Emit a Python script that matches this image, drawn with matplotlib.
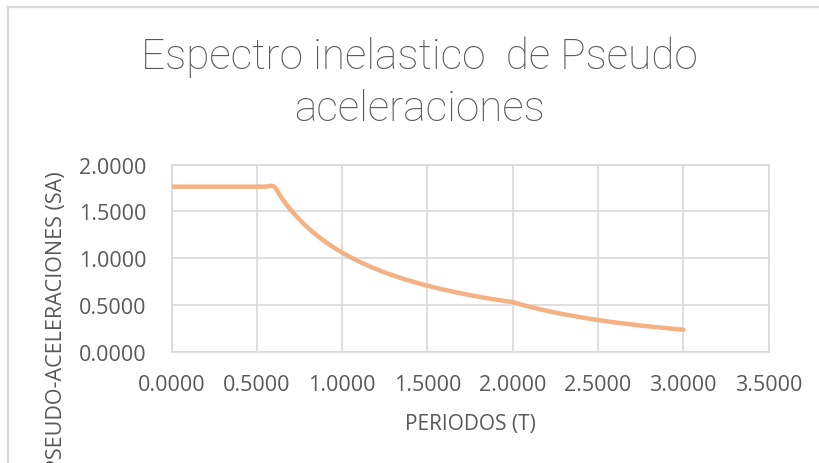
import matplotlib
matplotlib.use("Agg")
import matplotlib.pyplot as plt
import numpy as np
from matplotlib.path import Path
from matplotlib.patches import PathPatch

# periodo T (s) and pseudo-aceleracion Sa
periodos = [0.00, 0.05, 0.10, 0.15, 0.20, 0.25, 0.30, 0.35, 0.40, 0.45, 0.50,
            0.55, 0.60, 0.65, 0.70, 0.75, 0.80, 0.85, 0.90, 0.95, 1.00,
            1.05, 1.10, 1.15, 1.20, 1.25, 1.30, 1.35, 1.40, 1.45, 1.50,
            1.55, 1.60, 1.65, 1.70, 1.75, 1.80, 1.85, 1.90, 1.95, 2.00,
            2.05, 2.10, 2.15, 2.20, 2.25, 2.30, 2.35, 2.40, 2.45, 2.50,
            2.55, 2.60, 2.65, 2.70, 2.75, 2.80, 2.85, 2.90, 2.95, 3.00]
sa = [1.765, 1.765, 1.765, 1.765, 1.765, 1.765, 1.765, 1.765, 1.765, 1.765, 1.765,
      1.765, 1.765, 1.629, 1.513, 1.412, 1.324, 1.246, 1.177, 1.115, 1.059,
      1.009, 0.963, 0.921, 0.883, 0.847, 0.815, 0.784, 0.757, 0.730, 0.706,
      0.683, 0.662, 0.642, 0.623, 0.605, 0.588, 0.572, 0.557, 0.543, 0.530,
      0.504, 0.480, 0.458, 0.438, 0.418, 0.400, 0.384, 0.368, 0.353, 0.339,
      0.326, 0.313, 0.302, 0.291, 0.280, 0.270, 0.261, 0.252, 0.243, 0.235]

x_ticks = [0.0, 0.5, 1.0, 1.5, 2.0, 2.5, 3.0, 3.5]
y_ticks = [0.0, 0.5, 1.0, 1.5, 2.0]

TEXT = "#595959"
GRID = "#D9D9D9"
LINE = "#F4B183"
FONT = "Open Sans"


def smooth_path(x, y):
    # cubic bezier through every point, excel-style smoothed line
    pts = np.column_stack([x, y])
    verts = [pts[0]]
    codes = [Path.MOVETO]
    n = len(pts)
    for i in range(n - 1):
        p0 = pts[i - 1] if i > 0 else pts[i]
        p1 = pts[i]
        p2 = pts[i + 1]
        p3 = pts[i + 2] if i + 2 < n else pts[i + 1]
        c1 = p1 + (p2 - p0) / 6.0
        c2 = p2 - (p3 - p1) / 6.0
        verts += [c1, c2, p2]
        codes += [Path.CURVE4] * 3
    return Path(verts, codes)


fig = plt.figure(figsize=(8.2, 4.64), dpi=100)
ax = fig.add_axes([0.2094, 0.2399, 0.7278, 0.4030])

patch = PathPatch(smooth_path(periodos, sa), facecolor="none", edgecolor=LINE,
                  lw=3.2, capstyle="round", joinstyle="round", zorder=3)
ax.add_patch(patch)

ax.set_xlim(0, 3.5)
ax.set_ylim(0, 2.0)
ax.set_xticks(x_ticks)
ax.set_yticks(y_ticks)
ax.set_xticklabels([f"{v:.4f}" for v in x_ticks])
ax.set_yticklabels([f"{v:.4f}" for v in y_ticks])
ax.grid(True, color=GRID, lw=1.2)
ax.set_axisbelow(True)
for s in ax.spines.values():
    s.set_color(GRID)
    s.set_linewidth(1.2)
ax.tick_params(axis="y", length=0, labelsize=15.5, labelcolor=TEXT, pad=18)
ax.tick_params(axis="x", length=0, labelsize=15.5, labelcolor=TEXT, pad=16)
for lab in ax.get_xticklabels() + ax.get_yticklabels():
    lab.set_fontfamily(FONT)

ax.set_xlabel("PERIODOS (T)", fontsize=15, color=TEXT, family=FONT, labelpad=13)

# long axis title runs past the bottom edge of the figure
fig.text(0.0695, 0.306, "PSEUDO-ACELERACIONES (SA)", rotation=90, ha="center", va="center",
         fontsize=15.5, color=TEXT, family=FONT)

fig.text(0.512, 0.8506, "Espectro inelastico  de Pseudo", ha="center", va="baseline",
         fontsize=30.5, color=TEXT, family="Roboto", fontweight="light")
fig.text(0.512, 0.740, "aceleraciones", ha="center", va="baseline",
         fontsize=30.5, color=TEXT, family="Roboto", fontweight="light")

# chart area border (left and top edges visible)
fig.add_artist(plt.Line2D([0.0103, 0.0103], [0, 0.9817], color=GRID, lw=1.6))
fig.add_artist(plt.Line2D([0.0103, 1.0], [0.9817, 0.9817], color=GRID, lw=1.6))

fig.savefig("out.png", dpi=100)
